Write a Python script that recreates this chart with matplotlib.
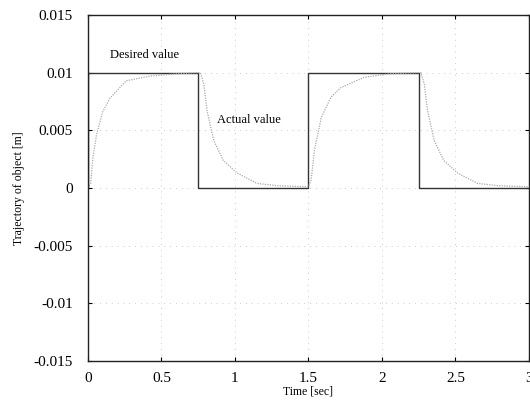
import matplotlib
matplotlib.use('Agg')
import matplotlib.pyplot as plt

# Desired value: square wave (m)
tDesired = [0, 0, 0.75, 0.75, 1.5, 1.5, 2.25, 2.25, 3.0]
yDesired = [0, 0.01, 0.01, 0, 0, 0.01, 0.01, 0, 0]

# Actual value (m)
tActual = [0, 0.018, 0.034, 0.059, 0.10, 0.15, 0.26, 0.42, 0.6, 0.75,
           0.765, 0.788, 0.81, 0.856, 0.92, 1.014, 1.15, 1.29, 1.5,
           1.518, 1.541, 1.587, 1.654, 1.72, 1.88, 2.05, 2.25,
           2.265, 2.288, 2.31, 2.356, 2.42, 2.514, 2.65, 2.79, 3.0]
yActual = [0, 0.0004, 0.0027, 0.0047, 0.0066, 0.0078, 0.0093, 0.0097,
           0.0099, 0.01, 0.01, 0.009, 0.0067, 0.0041, 0.0024, 0.0013,
           0.0004, 0.0002, 0.0001, 0.0007, 0.0033, 0.0061, 0.0079, 0.0087,
           0.0096, 0.0099, 0.01, 0.01, 0.009, 0.0067, 0.0041, 0.0024,
           0.0013, 0.0004, 0.0002, 0.0001]

xTicks = [0, 0.5, 1, 1.5, 2, 2.5, 3]
xTickLabels = ['0', '0.5', '1', '1.5', '2', '2.5', '3']
yTicks = [-0.015, -0.01, -0.005, 0, 0.005, 0.01, 0.015]
yTickLabels = ['-0.015', '-0.01', '-0.005', '0', '0.005', '0.01', '0.015']

plt.rcParams['font.family'] = ['Liberation Serif', 'DejaVu Serif']

fig = plt.figure(figsize=(5.30, 4.03), dpi=100)
ax = fig.add_axes([88/530, 1 - 361/403, 1 - 88/530 - 0.002, (361 - 15)/403])

ax.plot(tDesired, yDesired, color='#333333', lw=1.0)
ax.plot(tActual, yActual, color='#aaaaaa', lw=0.9, linestyle=(0, (1, 1)))

ax.set_xlim(0, 3)
ax.set_ylim(-0.015, 0.015)
ax.set_xticks(xTicks)
ax.set_xticklabels(xTickLabels)
ax.set_yticks(yTicks)
ax.set_yticklabels(yTickLabels)
ax.tick_params(direction='in', labelsize=11, length=3, width=0.8,
               top=True, right=True)
ax.tick_params(axis='y', pad=11)
ax.tick_params(axis='x', pad=8)
ax.grid(True, linestyle=(0, (1, 6)), color='#bbbbbb', lw=0.6)
for s in ax.spines.values():
    s.set_linewidth(1.0)
    s.set_color('#222222')

ax.set_xlabel('Time [sec]', fontsize=8.5, labelpad=0)
ax.set_ylabel('Trajectory of object [m]', fontsize=8.5, labelpad=6)

ax.text(0.15, 0.0113, 'Desired value', fontsize=9)
ax.text(0.88, 0.0056, 'Actual value', fontsize=9)

fig.savefig('out.png', dpi=100)
